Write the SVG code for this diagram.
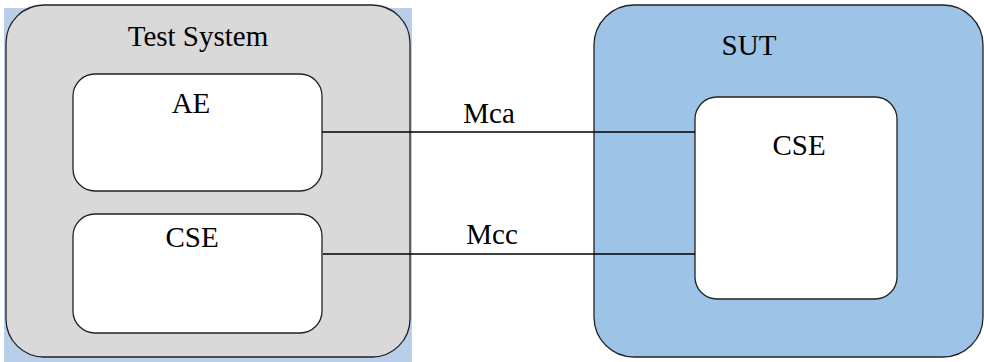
<svg xmlns="http://www.w3.org/2000/svg" width="984" height="362" viewBox="0 0 984 362">
<style>
  .lbl { font-family: "Liberation Serif", "Times New Roman", serif; font-size: 29px; fill: #000; }
  .box { stroke: #222; stroke-width: 1.3; }
  .inner { fill: #fff; stroke: #222; stroke-width: 1.3; }
  .conn { stroke: #000; stroke-width: 1.3; fill: none; }
</style>
<rect x="0" y="0" width="984" height="362" fill="#fff"/>
<g id="test-system">
  <rect x="4" y="8" width="408" height="354" fill="#b9cfe9"/>
  <rect class="box" x="6" y="5" width="404" height="352" rx="38" ry="38" fill="#d9d9d9"/>
  <text class="lbl" x="198" y="46" text-anchor="middle">Test System</text>
</g>
<g id="ts-ae">
  <rect class="inner" x="73" y="74" width="249" height="117" rx="22" ry="22"/>
  <text class="lbl" x="191" y="113" text-anchor="middle">AE</text>
</g>
<g id="ts-cse">
  <rect class="inner" x="73" y="214" width="249" height="119" rx="22" ry="22"/>
  <text class="lbl" x="192" y="247" text-anchor="middle">CSE</text>
</g>
<g id="sut">
  <rect class="box" x="594" y="5" width="389" height="352" rx="40" ry="40" fill="#9dc3e6"/>
  <text class="lbl" x="749" y="55" text-anchor="middle">SUT</text>
</g>
<g id="sut-cse">
  <rect class="inner" x="695" y="97" width="202" height="202" rx="22" ry="22"/>
  <text class="lbl" x="799" y="155" text-anchor="middle">CSE</text>
</g>
<g id="connectors">
  <line class="conn" x1="322" y1="132" x2="695" y2="132"/>
  <text class="lbl" x="489" y="123" text-anchor="middle">Mca</text>
  <line class="conn" x1="323" y1="254" x2="695" y2="254"/>
  <text class="lbl" x="492" y="244" text-anchor="middle">Mcc</text>
</g>
</svg>
